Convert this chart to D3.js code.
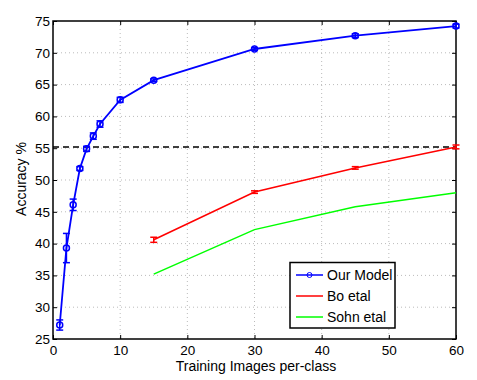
<!DOCTYPE html>
<html><head><meta charset="utf-8">
<script src="https://cdn.jsdelivr.net/npm/d3@7"></script>
<style>body{margin:0;background:#fff}svg{display:block}text{font-family:"Liberation Sans",Arial,sans-serif}</style>
</head><body><svg id="c" width="477" height="380"></svg>
<script>
const ourX = [1,2,3,4,5,6,7,10,15,30,45,60];
const ourY = [27.2,39.3,46.1,51.8,54.9,56.9,58.8,62.6,65.7,70.6,72.7,74.2];
const ourErr = [0.8,2.3,0.9,0.3,0.4,0.5,0.5,0.4,0.2,0.2,0.3,0.3];
const boX = [15,30,45,60];
const boY = [40.6,48.1,51.9,55.2];
const boErr = [0.4,0.2,0.2,0.3];
const sohnX = [15,30,45,60];
const sohnY = [35.2,42.2,45.8,48.0];
const baseline = 55.2;
const xTicks = [0,10,20,30,40,50,60];
const yTicks = [25,30,35,40,45,50,55,60,65,70,75];
const legendLabels = ["Our Model","Bo etal","Sohn etal"];
const colors = ["#0000ff","#ff0000","#00ff00"];

const svg = d3.select("#c");
const L=53,R=456,T=21,B=339;
const x = d3.scaleLinear().domain([0,60]).range([L,R]);
const y = d3.scaleLinear().domain([25,75]).range([B,T]);

// grid
const g = svg.append("g");
xTicks.forEach(t=>{ if(t>0&&t<60) g.append("line").attr("x1",x(t)).attr("x2",x(t)).attr("y1",T).attr("y2",B).attr("stroke","#bbb").attr("stroke-width",1).attr("stroke-dasharray","1,3");});
yTicks.forEach(t=>{ if(t>25&&t<75) g.append("line").attr("x1",L).attr("x2",R).attr("y1",y(t)).attr("y2",y(t)).attr("stroke","#bbb").attr("stroke-width",1).attr("stroke-dasharray","1,3");});

// axes
const ax = svg.append("g").attr("transform",`translate(0,${B})`).call(d3.axisBottom(x).tickValues(xTicks).tickSizeInner(-4).tickSizeOuter(0).tickPadding(6));
const axT = svg.append("g").attr("transform",`translate(0,${T})`).call(d3.axisTop(x).tickValues(xTicks).tickSizeInner(-4).tickSizeOuter(0).tickFormat(""));
const ay = svg.append("g").attr("transform",`translate(${L},0)`).call(d3.axisLeft(y).tickValues(yTicks).tickSizeInner(-4).tickSizeOuter(0).tickPadding(3));
const ayR = svg.append("g").attr("transform",`translate(${R},0)`).call(d3.axisRight(y).tickValues(yTicks).tickSizeInner(-4).tickSizeOuter(0).tickFormat(""));
[ax,axT,ay,ayR].forEach(a=>{a.selectAll(".domain").remove();a.selectAll("line").attr("stroke","#000");a.selectAll("text").attr("font-size",13.5).attr("fill","#000").attr("font-family","Liberation Sans, Arial, sans-serif");});
svg.append("rect").attr("x",L).attr("y",T).attr("width",R-L).attr("height",B-T).attr("fill","none").attr("stroke","#000").attr("stroke-width",1.5);

// baseline
svg.append("line").attr("x1",x(0)).attr("x2",x(60)).attr("y1",y(baseline)).attr("y2",y(baseline)).attr("stroke","#000").attr("stroke-width",1.5).attr("stroke-dasharray","6,4");

const line = d3.line().x(d=>x(d[0])).y(d=>y(d[1]));
function errbars(xs,ys,es,col){
  xs.forEach((xv,i)=>{
    const cx=x(xv), y1=y(ys[i]-es[i]), y2=y(ys[i]+es[i]);
    svg.append("line").attr("x1",cx).attr("x2",cx).attr("y1",y1).attr("y2",y2).attr("stroke",col).attr("stroke-width",1.5);
    [y1,y2].forEach(yy=>svg.append("line").attr("x1",cx-3.5).attr("x2",cx+3.5).attr("y1",yy).attr("y2",yy).attr("stroke",col).attr("stroke-width",1.5));
  });
}
// Sohn
svg.append("path").attr("d",line(sohnX.map((v,i)=>[v,sohnY[i]]))).attr("fill","none").attr("stroke",colors[2]).attr("stroke-width",1.5);
// Bo
svg.append("path").attr("d",line(boX.map((v,i)=>[v,boY[i]]))).attr("fill","none").attr("stroke",colors[1]).attr("stroke-width",1.5);
errbars(boX,boY,boErr,colors[1]);
// Ours
svg.append("path").attr("d",line(ourX.map((v,i)=>[v,ourY[i]]))).attr("fill","none").attr("stroke",colors[0]).attr("stroke-width",1.8);
errbars(ourX,ourY,ourErr,colors[0]);
ourX.forEach((v,i)=>svg.append("circle").attr("cx",x(v)).attr("cy",y(ourY[i])).attr("r",3).attr("fill","none").attr("stroke",colors[0]).attr("stroke-width",1.5));

// labels
svg.append("text").attr("x",256).attr("y",371).attr("text-anchor","middle").attr("font-size",14).text("Training Images per-class");
svg.append("text").attr("transform",`translate(25.5,179) rotate(-90)`).attr("text-anchor","middle").attr("font-size",14).text("Accuracy %");

// legend
const lg = svg.append("g");
lg.append("rect").attr("x",290).attr("y",262.5).attr("width",105).attr("height",65.5).attr("fill","#fff").attr("stroke","#000").attr("stroke-width",1.5);
legendLabels.forEach((lab,i)=>{
  const yy = 275 + i*21;
  lg.append("line").attr("x1",296).attr("x2",323).attr("y1",yy).attr("y2",yy).attr("stroke",colors[i]).attr("stroke-width",1.5);
  if(i===0) lg.append("circle").attr("cx",309.5).attr("cy",yy).attr("r",2.5).attr("fill","none").attr("stroke",colors[i]).attr("stroke-width",1);
  lg.append("text").attr("x",327).attr("y",yy+5).attr("font-size",14).text(lab);
});
</script></body></html>
